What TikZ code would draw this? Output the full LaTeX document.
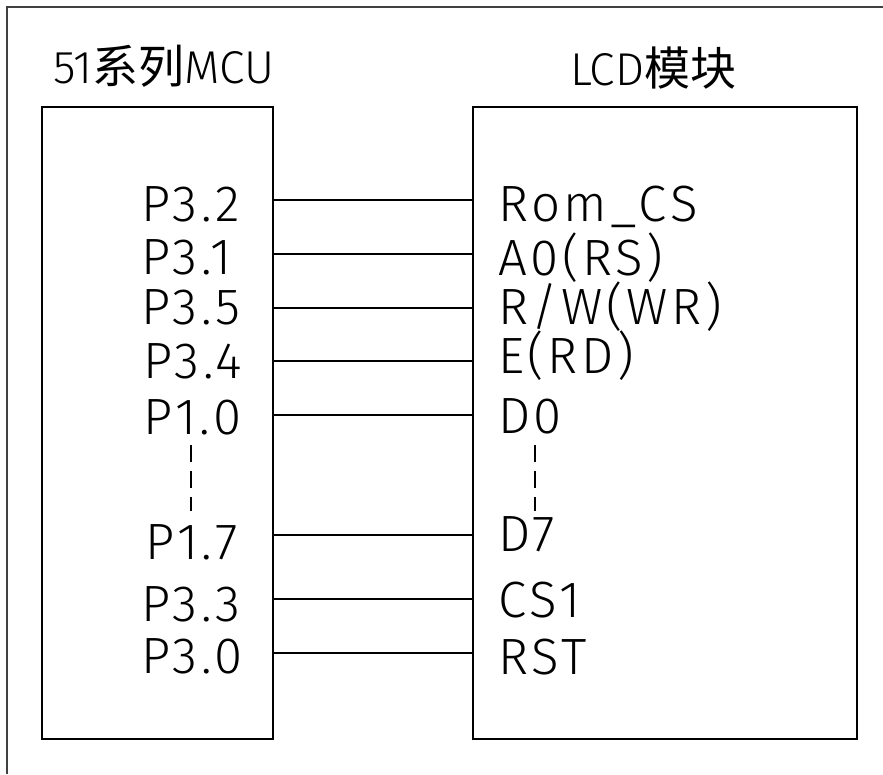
\documentclass[tikz,border=0pt]{standalone}
\usepackage{fontspec}
\setmainfont{Fira Sans Light}
\newfontfamily\cjk{Noto Sans CJK SC}
\newfontfamily\pinfont[LetterSpace=7]{Fira Sans Light}
\begin{document}
\begin{tikzpicture}[x=1pt,y=-1pt,
  box/.style={draw=black,line width=2pt,inner sep=0pt,anchor=north west},
  pin/.style={font=\pinfont\fontsize{51}{51}\selectfont,inner sep=0pt,anchor=base west},
  title/.style={font=\fontsize{46}{46}\selectfont,inner sep=0pt,anchor=base west},
  wire/.style={draw=black,line width=1.6pt},
  dots/.style={draw=black,line width=1.4pt,dash pattern=on 17pt off 9pt}]
\useasboundingbox (0,0) rectangle (883,774);
\fill[white] (0,0) rectangle (883,774);
% outer frame
\draw[line width=2.2pt,color=black!75] (7,774) -- (7,7) -- (883,7);
% titles
\node[title] (t1) at (53,83) {51{\cjk 系列}MCU};
\node[title] (t2) at (570,85) {LCD{\cjk 模块}};
% boxes
\node[box,minimum width=231pt,minimum height=632pt] (mcu) at (41,106) {};
\node[box,minimum width=384pt,minimum height=632pt] (lcd) at (472,106) {};
% left pin labels
\node[pin] (p32) at (141,221) {P3.2};
\node[pin] (p31) at (141,274) {P3.1};
\node[pin] (p35) at (141,324) {P3.5};
\node[pin] (p34) at (143,378) {P3.4};
\node[pin] (p10) at (143,434) {P1.0};
\node[pin] (p17) at (145,559) {P1.7};
\node[pin] (p33) at (141,621) {P3.3};
\node[pin] (p30) at (141,673) {P3.0};
% right pin labels
\node[pin] (romcs) at (498,221) {Rom\_CS};
\node[pin] (a0) at (498,275) {A0(RS)};
\node[pin] (rw) at (498,324) {R/W(WR)};
\node[pin] (e) at (498,373) {E(RD)};
\node[pin] (d0) at (498,433) {D0};
\node[pin] (d7) at (498,551) {D7};
\node[pin] (cs1) at (498,617) {CS1};
\node[pin] (rst) at (498,674) {RST};
% connectors
\foreach \i/\yy in {1/200,2/254,3/308,4/361,5/415,6/535,7/599,8/653}{
  \coordinate (a\i) at (272,\yy);
  \coordinate (b\i) at (472,\yy);
  \draw[wire] (a\i) -- (b\i);
}
% dashed continuation marks
\coordinate (ld1) at (191,445);
\coordinate (ld2) at (191,511);
\coordinate (rd1) at (535,445);
\coordinate (rd2) at (535,511);
\draw[dots] (ld1) -- (ld2);
\draw[dots] (rd1) -- (rd2);
\end{tikzpicture}
\end{document}
